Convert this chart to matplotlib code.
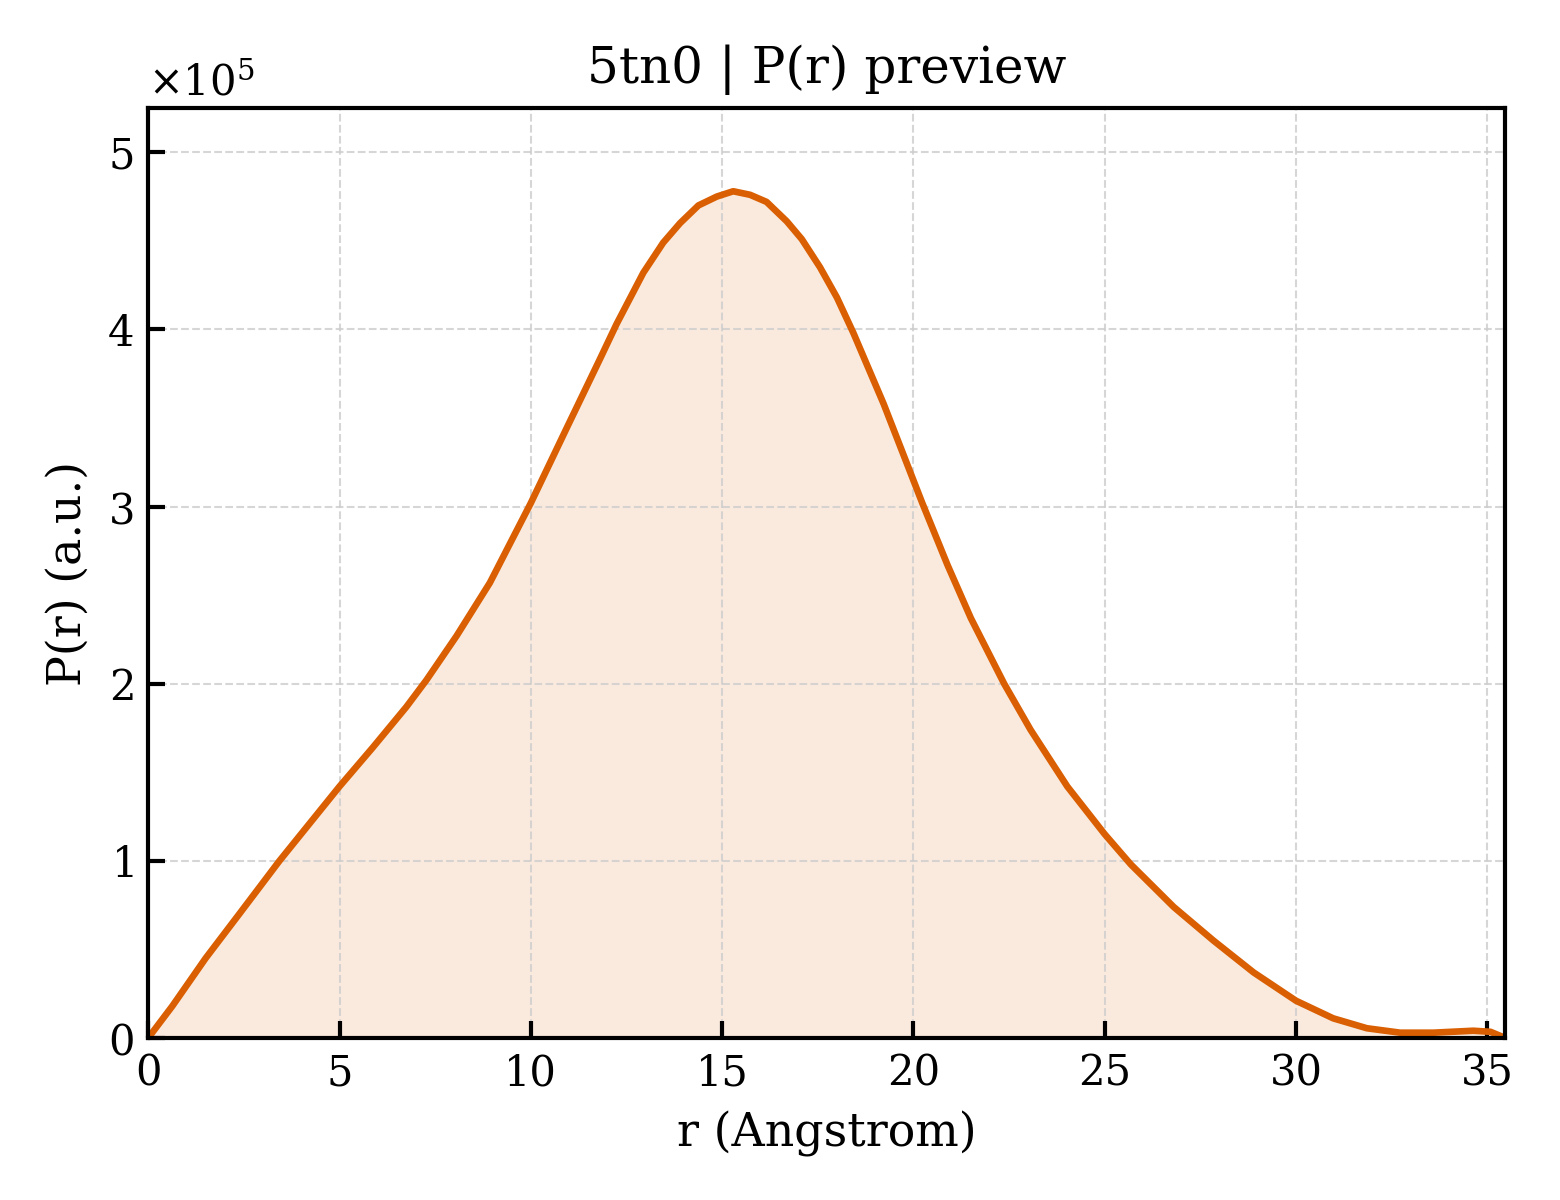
import matplotlib
matplotlib.use("Agg")
import matplotlib.pyplot as plt
from matplotlib.ticker import ScalarFormatter

# P(r) (r in Angstrom, P in units of 1e5)
r_vals = [0.0, 0.63, 1.5, 2.38, 3.43, 5.0, 5.87, 6.75, 7.27, 8.06, 8.93,
          9.5, 10.0, 10.93, 11.8, 12.24, 12.94, 13.46, 13.9, 14.38, 14.86,
          15.29, 15.73, 16.16, 16.69, 17.08, 17.56, 18.0, 18.43, 19.22,
          20.23, 20.89, 21.5, 22.37, 23.06, 24.02, 25.0, 25.68, 26.8,
          27.84, 28.89, 30.0, 30.97, 31.85, 32.72, 33.59, 34.63, 35.08,
          35.47]
p_vals = [0.0, 0.18, 0.45, 0.70, 1.00, 1.42, 1.64, 1.87, 2.02, 2.27, 2.57,
          2.81, 3.02, 3.44, 3.83, 4.03, 4.32, 4.49, 4.60, 4.70, 4.75,
          4.78, 4.76, 4.72, 4.61, 4.51, 4.35, 4.18, 3.98, 3.58,
          3.02, 2.67, 2.37, 2.00, 1.74, 1.42, 1.15, 0.98, 0.74,
          0.55, 0.37, 0.21, 0.111, 0.055, 0.030, 0.030, 0.041, 0.035,
          0.0]
p_vals = [p * 1e5 for p in p_vals]

plt.rcParams["font.family"] = "DejaVu Serif"
plt.rcParams["mathtext.fontset"] = "dejavuserif"

fig, ax = plt.subplots(figsize=(5.2, 4.0), dpi=300)
fig.subplots_adjust(left=0.095, right=0.965, top=0.91, bottom=0.135)

color = "#D95F02"
ax.fill_between(r_vals, p_vals, 0, color=color, alpha=0.13, linewidth=0)
ax.plot(r_vals, p_vals, color=color, linewidth=1.6)

ax.set_xlim(0, max(r_vals))
ax.set_ylim(0, 5.25e5)
ax.set_xticks([0, 5, 10, 15, 20, 25, 30, 35])

fmt = ScalarFormatter(useMathText=True)
fmt.set_powerlimits((0, 0))
ax.yaxis.set_major_formatter(fmt)
ax.yaxis.get_offset_text().set_fontsize(10)

ax.tick_params(direction="in", length=4, width=1, labelsize=10)
for s in ax.spines.values():
    s.set_linewidth(1)

ax.grid(True, linestyle="--", linewidth=0.5, color="#cccccc", alpha=0.8)

ax.set_xlabel("r (Angstrom)", fontsize=11)
ax.set_ylabel("P(r) (a.u.)", fontsize=11)
ax.set_title("5tn0 | P(r) preview", fontsize=12)

fig.savefig("out.png", dpi=300)
